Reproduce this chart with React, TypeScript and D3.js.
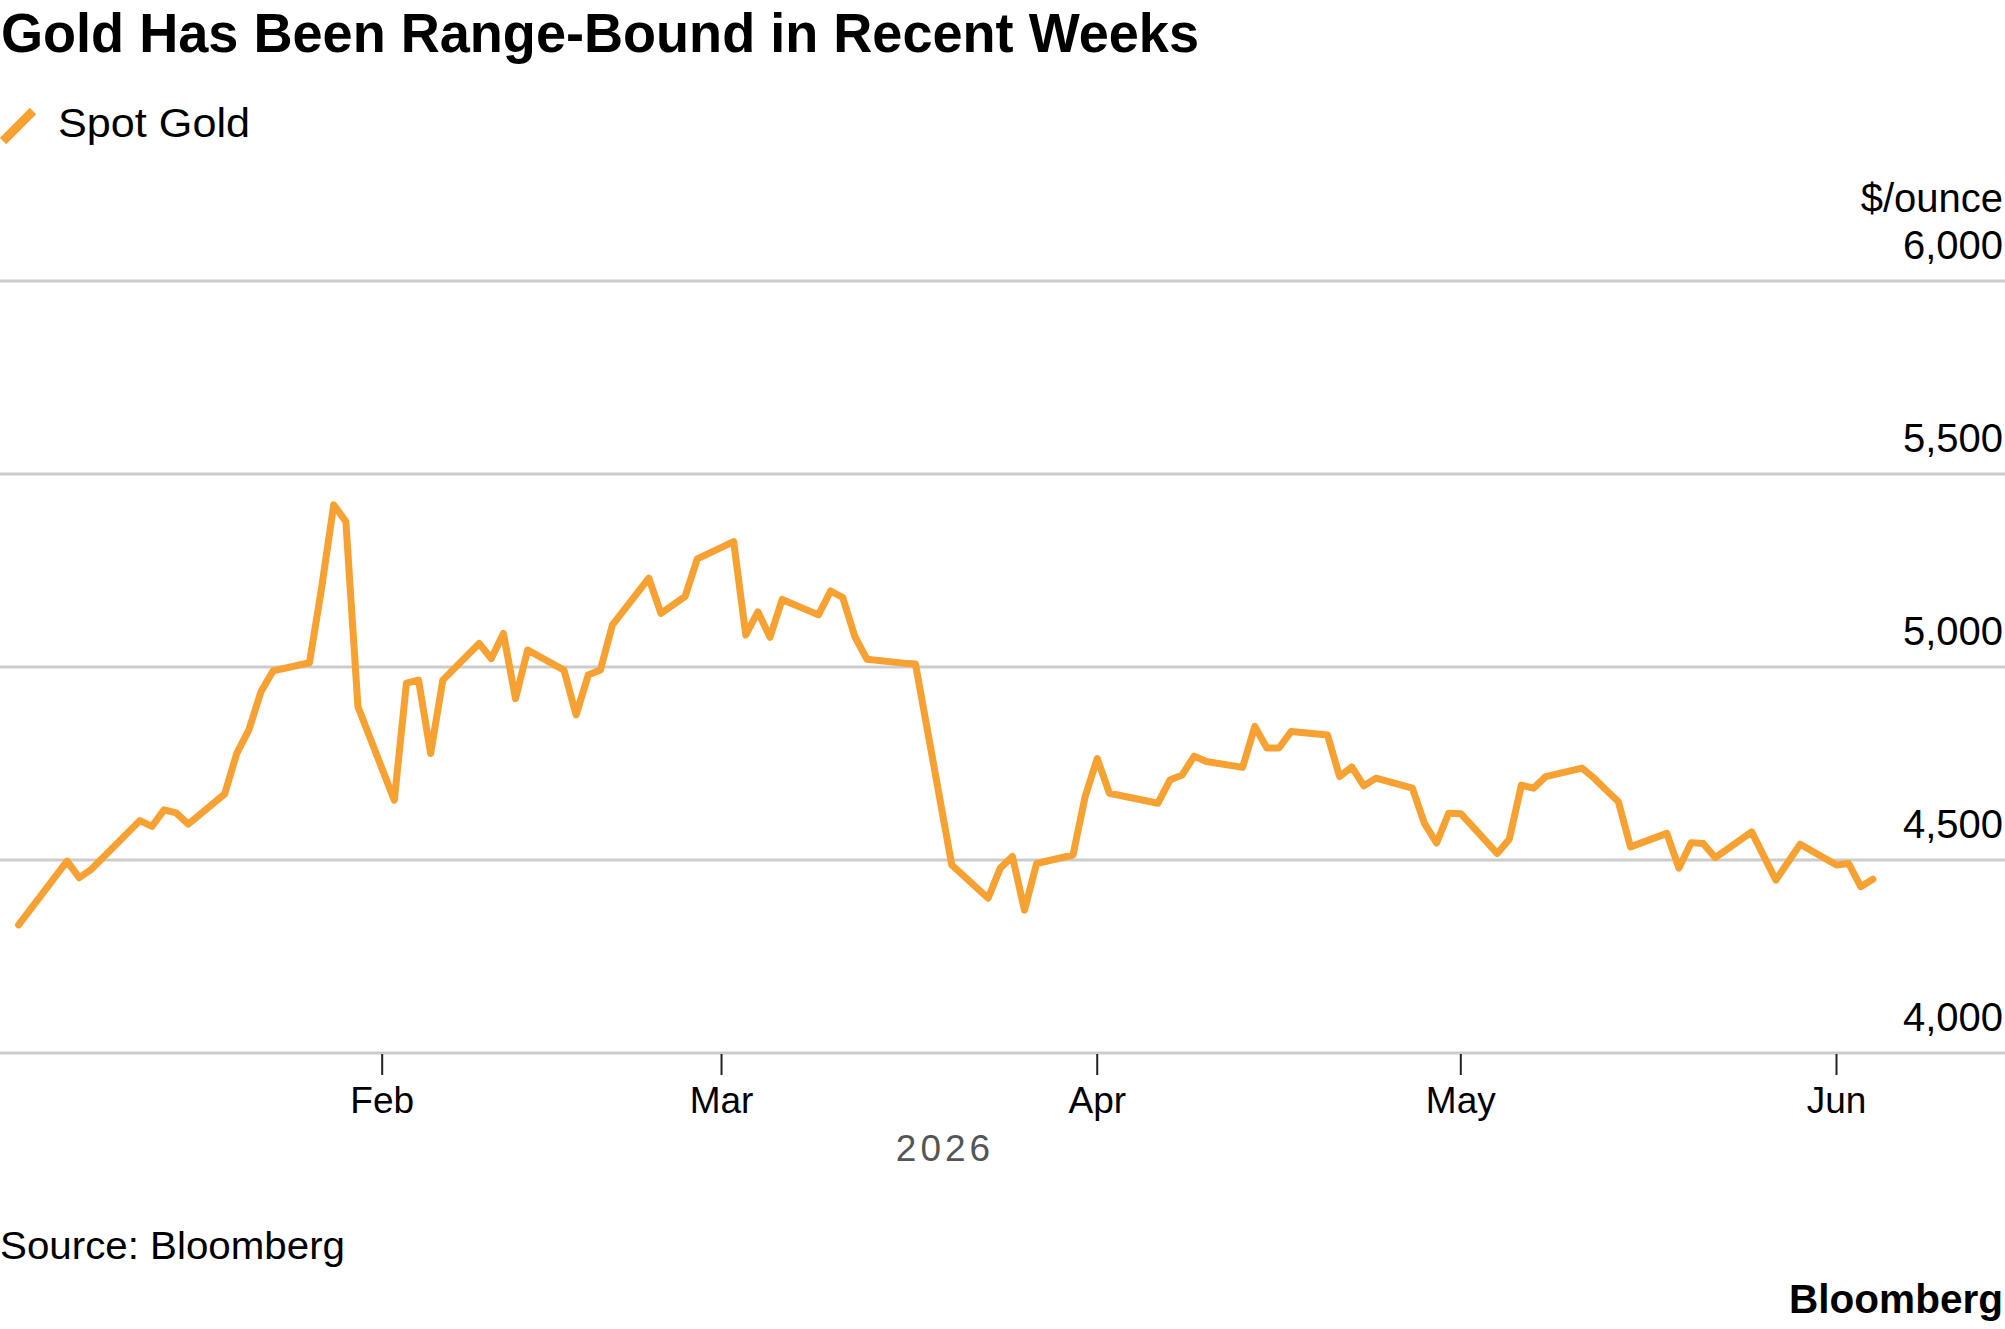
import React from 'react';
import { scaleUtc, scaleLinear, line, utcParse, format } from 'd3';

const width = 2005;
const height = 1329;

// spot gold, $/ounce, 2026
const dates = [
  '2026-01-02', '2026-01-06', '2026-01-07', '2026-01-08', '2026-01-12', '2026-01-13',
  '2026-01-14', '2026-01-15', '2026-01-16', '2026-01-19', '2026-01-20', '2026-01-21',
  '2026-01-22', '2026-01-23', '2026-01-26', '2026-01-27', '2026-01-28', '2026-01-29',
  '2026-01-30', '2026-02-02', '2026-02-03', '2026-02-04', '2026-02-05', '2026-02-06',
  '2026-02-09', '2026-02-10', '2026-02-11', '2026-02-12', '2026-02-13', '2026-02-16',
  '2026-02-17', '2026-02-18', '2026-02-19', '2026-02-20', '2026-02-23', '2026-02-24',
  '2026-02-26', '2026-02-27', '2026-03-02', '2026-03-03', '2026-03-04', '2026-03-05',
  '2026-03-06', '2026-03-09', '2026-03-10', '2026-03-11', '2026-03-12', '2026-03-13',
  '2026-03-16', '2026-03-17', '2026-03-20', '2026-03-23', '2026-03-24', '2026-03-25',
  '2026-03-26', '2026-03-27', '2026-03-30', '2026-03-31', '2026-04-01', '2026-04-02',
  '2026-04-06', '2026-04-07', '2026-04-08', '2026-04-09', '2026-04-10', '2026-04-13',
  '2026-04-14', '2026-04-15', '2026-04-16', '2026-04-17', '2026-04-20', '2026-04-21',
  '2026-04-22', '2026-04-23', '2026-04-24', '2026-04-27', '2026-04-28', '2026-04-29',
  '2026-04-30', '2026-05-01', '2026-05-04', '2026-05-05', '2026-05-06', '2026-05-07',
  '2026-05-08', '2026-05-11', '2026-05-12', '2026-05-13', '2026-05-14', '2026-05-15',
  '2026-05-18', '2026-05-19', '2026-05-20', '2026-05-21', '2026-05-22', '2026-05-25',
  '2026-05-27', '2026-05-29', '2026-06-01', '2026-06-02', '2026-06-03', '2026-06-04',
];

const prices = [
  4332, 4497, 4454, 4476, 4602, 4587,
  4630, 4622, 4593, 4671, 4776, 4837,
  4936, 4990, 5011, 5205, 5420, 5377,
  4897, 4655, 4958, 4966, 4776, 4966,
  5061, 5022, 5087, 4918, 5044, 4992,
  4876, 4979, 4992, 5109, 5230, 5139,
  5183, 5280, 5325, 5083, 5143, 5077,
  5175, 5135, 5197, 5180, 5079, 5020,
  5010, 5008, 4487, 4401, 4479, 4509,
  4370, 4491, 4513, 4664, 4763, 4673,
  4647, 4707, 4720, 4769, 4755, 4740,
  4846, 4790, 4790, 4833, 4824, 4716,
  4741, 4692, 4712, 4686, 4595, 4544,
  4621, 4620, 4517, 4554, 4694, 4686,
  4716, 4738, 4712, 4681, 4651, 4534,
  4569, 4479, 4545, 4543, 4506, 4573,
  4448, 4541, 4487, 4491, 4431, 4450,
];

const monthTicks = ['2026-02-01', '2026-03-01', '2026-04-01', '2026-05-01', '2026-06-01'];
const monthLabels = ['Feb', 'Mar', 'Apr', 'May', 'Jun'];
const yTicks = [4000, 4500, 5000, 5500, 6000];

const gold = '#f6a131';
const font = '"Liberation Sans", Arial, Helvetica, sans-serif';

const parse = utcParse('%Y-%m-%d');

export default function App() {
  const x = scaleUtc()
    .domain([parse('2026-01-01'), parse('2026-06-01')])
    .range([6.5, 1836.5]);
  const y = scaleLinear().domain([4000, 6000]).range([1053, 281]);

  const points = dates.map((d, i) => [parse(d), prices[i]] as [Date, number]);
  const path = line<[Date, number]>()
    .x((d) => x(d[0]))
    .y((d) => y(d[1]))(points);

  const fmt = format(',');

  return (
    <div style={{ position: 'absolute', left: 0, top: 0 }}>
      <svg width={width} height={height} style={{ display: 'block', background: '#fff' }} fontFamily={font}>
        {/* title + legend */}
        <text x={1} y={52} fontSize={56} fontWeight="bold" fill="#000" textLength={1198} lengthAdjust="spacingAndGlyphs">
          Gold Has Been Range-Bound in Recent Weeks
        </text>
        <line x1={3} y1={141} x2={33} y2={111} stroke={gold} strokeWidth={9} />
        <text x={58} y={137} fontSize={41} fill="#000" textLength={192} lengthAdjust="spacingAndGlyphs">
          Spot Gold
        </text>

        {/* gridlines */}
        {yTicks.map((t) => (
          <line key={t} x1={0} x2={width} y1={y(t)} y2={y(t)} stroke="#cccccc" strokeWidth={3} />
        ))}
        <text x={2003} y={212} fontSize={40} textAnchor="end" fill="#000">
          $/ounce
        </text>
        {yTicks.map((t) => (
          <text key={'l' + t} x={2003} y={y(t) - 22} fontSize={40} textAnchor="end" fill="#000">
            {fmt(t)}
          </text>
        ))}

        {/* month ticks */}
        {monthTicks.map((m, i) => (
          <g key={m} transform={`translate(${x(parse(m))},0)`}>
            <line y1={1054} y2={1075} stroke="#222" strokeWidth={2} />
            <text y={1113} fontSize={37} textAnchor="middle" fill="#000">
              {monthLabels[i]}
            </text>
          </g>
        ))}
        <text x={945} y={1161} fontSize={37} textAnchor="middle" fill="#555" letterSpacing={4}>
          2026
        </text>

        <path d={path ?? ''} fill="none" stroke={gold} strokeWidth={7} strokeLinejoin="round" strokeLinecap="round" />

        <text x={0} y={1259} fontSize={39} fill="#000" textLength={345} lengthAdjust="spacingAndGlyphs">
          Source: Bloomberg
        </text>
        <text x={1789} y={1313} fontSize={40} fontWeight="bold" fill="#000" textLength={214} lengthAdjust="spacingAndGlyphs">
          Bloomberg
        </text>
      </svg>
    </div>
  );
}
